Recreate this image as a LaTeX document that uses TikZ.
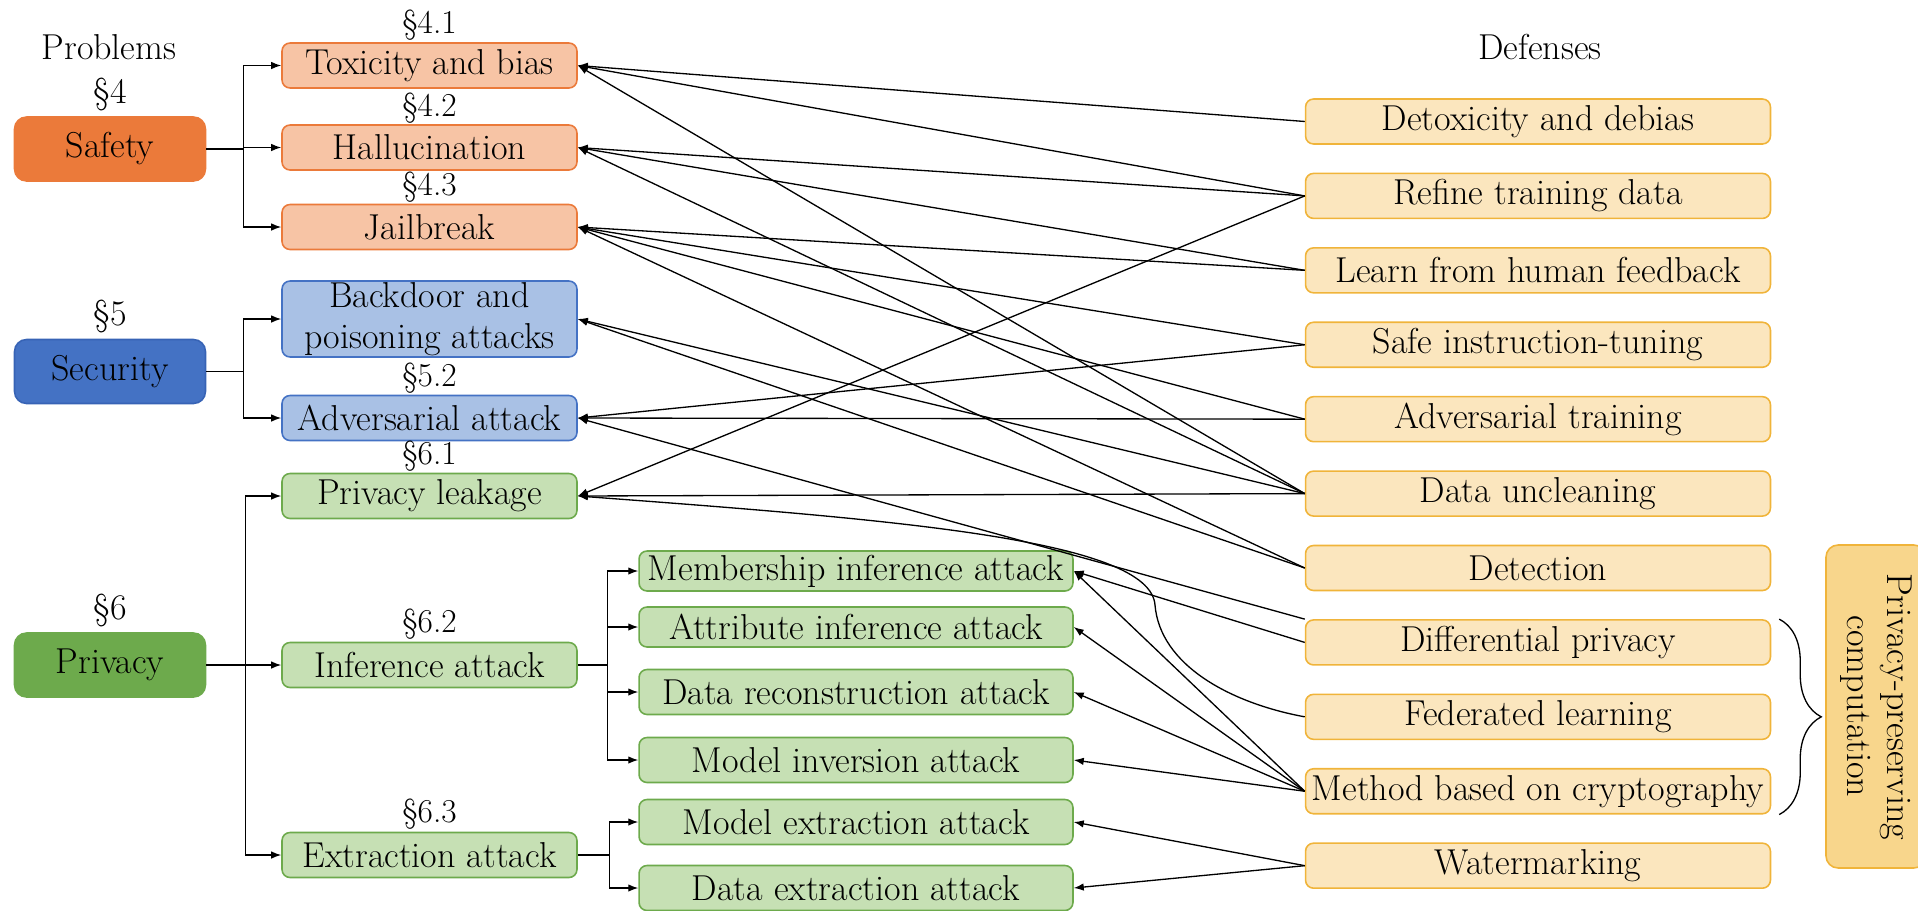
\documentclass[tikz,border=0pt]{standalone}
\usepackage{fontspec}
\usepackage{tikz}
\usetikzlibrary{arrows.meta, positioning, decorations.pathreplacing}

\definecolor{safetyc}{HTML}{EB7A3A}
\definecolor{safetyl}{HTML}{F7C4A5}
\definecolor{securc}{HTML}{4472C4}
\definecolor{securd}{HTML}{3763B5}
\definecolor{securl}{HTML}{A9C1E5}
\definecolor{privc}{HTML}{6DAA4C}
\definecolor{privl}{HTML}{C6E0B4}
\definecolor{defl}{HTML}{FBE6BE}
\definecolor{defd}{HTML}{F0B43A}
\definecolor{ppcf}{HTML}{F8D68C}

\begin{document}
\begin{tikzpicture}[
    x=0.02cm, y=-0.02cm,
    node distance=0.557cm,
    txt/.style={font=\fontsize{20.5}{23}\selectfont, inner sep=0pt},
    seclabel/.style={font=\fontsize{19}{21}\selectfont, inner sep=0pt},
    mainbox/.style={draw, rectangle, rounded corners=2.4mm, minimum width=3.82cm, minimum height=1.28cm, align=center, line width=0.9pt, txt},
    probbox/.style={draw, rectangle, rounded corners=1.6mm, minimum width=5.9cm, minimum height=0.9cm, align=center, line width=0.9pt, txt},
    safebox/.style={probbox, fill=safetyl, draw=safetyc},
    secbox/.style={probbox, fill=securl, draw=securc},
    privbox/.style={probbox, fill=privl, draw=privc},
    attbox/.style={privbox, minimum width=8.68cm},
    defbox/.style={probbox, minimum width=9.3cm, fill=defl, draw=defd},
    arrow/.style={-{Latex[length=2mm, width=1.5mm]}, line width=0.75pt},
    line/.style={line width=0.75pt}
]
\useasboundingbox (0,0) rectangle (1918,910);

% Titles
\node (probs) [txt] at (109,47) {Problems};
\node (defs) [txt] at (1540,47) {Defenses};

% Main categories
\node (safety) [mainbox, fill=safetyc, draw=safetyc] at (110,149) {Safety};
\node (secur) [mainbox, fill=securc, draw=securd] at (110,371.5) {Security};
\node (priv) [mainbox, fill=privc, draw=privc] at (110,665) {Privacy};
\node (s4) [txt, above=0.1cm of safety] {\S4};
\node (s5) [txt, above=0.1cm of secur] {\S5};
\node (s6) [txt, above=0.1cm of priv] {\S6};

% Problems
\node (toxic) [safebox] at (429.5,65.5) {Toxicity and bias};
\node (halluc) [safebox] at (429.5,147.5) {Hallucination};
\node (jail) [safebox] at (429.5,227) {Jailbreak};
\node (backdoor) [secbox, minimum height=1.52cm] at (429.5,319) {Backdoor and\\poisoning attacks};
\node (adv) [secbox] at (429.5,418) {Adversarial attack};
\node (leak) [privbox] at (429.5,496) {Privacy leakage};
\node (infer) [privbox] at (429.5,665) {Inference attack};
\node (extract) [privbox] at (429.5,855) {Extraction attack};

\node (s41) [seclabel, above=0.03cm of toxic] {\S4.1};
\node (s42) [seclabel, above=0.01cm of halluc] {\S4.2};
\node (s43) [seclabel, above=0.01cm of jail] {\S4.3};
\node (s52) [seclabel, above=0.01cm of adv] {\S5.2};
\node (s61) [seclabel, above=0.01cm of leak] {\S6.1};
\node (s62) [seclabel, above=0.03cm of infer] {\S6.2};
\node (s63) [seclabel, above=0.03cm of extract] {\S6.3};

% Attack types
\node (member) [attbox, minimum height=0.8cm] at (856,571) {Membership inference attack};
\node (attr) [attbox, minimum height=0.8cm] at (856,627) {Attribute inference attack};
\node (recon) [attbox] at (856,692) {Data reconstruction attack};
\node (invers) [attbox] at (856,760) {Model inversion attack};
\node (mext) [attbox] at (856,822) {Model extraction attack};
\node (dext) [attbox] at (856,888) {Data extraction attack};

% Defenses
\node (detox) [defbox] at (1538,121.5) {Detoxicity and debias};
\node (refine) [defbox, below=of detox] {Refine training data};
\node (learn) [defbox, below=of refine] {Learn from human feedback};
\node (safeit) [defbox, below=of learn] {Safe instruction-tuning};
\node (advtrain) [defbox, below=of safeit] {Adversarial training};
\node (unclean) [defbox, below=of advtrain] {Data uncleaning};
\node (detect) [defbox, below=of unclean] {Detection};
\node (diffp) [defbox, below=of detect] {Differential privacy};
\node (fedl) [defbox, below=of diffp] {Federated learning};
\node (crypto) [defbox, below=of fedl] {Method based on cryptography};
\node (water) [defbox, below=of crypto] {Watermarking};

\node (ppc) [txt, draw=defd, fill=ppcf, rounded corners=2.4mm, line width=0.9pt, minimum width=6.46cm, minimum height=2.0cm, rotate=-90, align=center] at (1876,706.5) {Privacy-preserving\\computation};
\draw [decorate, decoration={brace, amplitude=0.84cm}, line width=0.75pt] ([xshift=0.16cm]diffp.north east) -- ([xshift=0.16cm]crypto.south east);

% Forks on the left
\draw [line] (safety.east) -- ++(37,0) coordinate (fsafe);
\draw [arrow] (fsafe) |- (toxic.west);
\draw [arrow] (fsafe) |- (halluc.west);
\draw [arrow] (fsafe) |- (jail.west);

\draw [line] (secur.east) -- ++(37,0) coordinate (fsecur);
\draw [arrow] (fsecur) |- (backdoor.west);
\draw [arrow] (fsecur) |- (adv.west);

\draw [line] (priv.east) -- ++(39,0) coordinate (fpriv);
\draw [arrow] (fpriv) |- (leak.west);
\draw [arrow] (fpriv) |- (infer.west);
\draw [arrow] (fpriv) |- (extract.west);

\draw [line] (infer.east) -- ++(30,0) coordinate (finfer);
\draw [arrow] (finfer) |- (member.west);
\draw [arrow] (finfer) |- (attr.west);
\draw [arrow] (finfer) |- (recon.west);
\draw [arrow] (finfer) |- (invers.west);

\draw [line] (extract.east) -- ++(32,0) coordinate (fext);
\draw [arrow] (fext) |- (mext.west);
\draw [arrow] (fext) |- (dext.west);

% Defenses to problems
\draw [arrow] (detox.west) -- (toxic.east);
\draw [arrow] (refine.west) -- (toxic.east);
\draw [arrow] (refine.west) -- (halluc.east);
\draw [arrow] (refine.west) -- (leak.east);
\draw [arrow] (learn.west) -- (halluc.east);
\draw [arrow] (learn.west) -- (jail.east);
\draw [arrow] (safeit.west) -- (jail.east);
\draw [arrow] (safeit.west) -- (adv.east);
\draw [arrow] (advtrain.west) -- (jail.east);
\draw [arrow] (advtrain.west) -- (adv.east);
\draw [arrow] (unclean.west) -- (toxic.east);
\draw [arrow] (unclean.west) -- (halluc.east);
\draw [arrow] (unclean.west) -- (backdoor.east);
\draw [arrow] (unclean.west) -- (leak.east);
\draw [arrow] (detect.west) -- (jail.east);
\draw [arrow] (detect.west) -- (backdoor.east);
\draw [arrow] (diffp.north west) -- (adv.east);
\draw [arrow] (diffp.west) -- (member.east);

% Federated learning curve
\coordinate (fbend) at (1155,605);
\draw [arrow] (fedl.west) .. controls (1230,703) and (1160,665) .. (fbend) .. controls (1150,540) and (900,520) .. (leak.east);

\draw [arrow] (crypto.west) -- (member.east);
\draw [arrow] (crypto.west) -- (attr.east);
\draw [arrow] (crypto.west) -- (recon.east);
\draw [arrow] (crypto.west) -- (invers.east);
\draw [arrow] (water.west) -- (mext.east);
\draw [arrow] (water.west) -- (dext.east);

\end{tikzpicture}
\end{document}
